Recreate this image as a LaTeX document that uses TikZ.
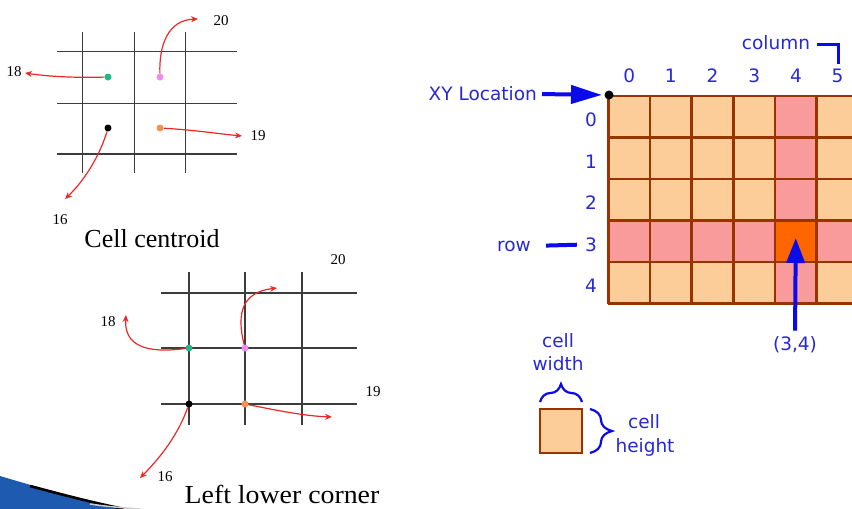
\documentclass[tikz,border=0pt]{standalone}
\usepackage{fontspec}
\setmainfont{Liberation Serif}
\newfontfamily\vsans{DejaVu Sans}
\usetikzlibrary{arrows.meta,decorations.pathreplacing}
\definecolor{peach}{RGB}{252,204,153}
\definecolor{pinkc}{RGB}{250,155,155}
\definecolor{orng}{RGB}{255,102,0}
\definecolor{brownc}{RGB}{153,51,0}
\definecolor{bluetxt}{RGB}{40,40,215}
\definecolor{bluearr}{RGB}{10,10,235}
\definecolor{redarr}{RGB}{235,40,40}
\definecolor{dotgreen}{RGB}{30,185,135}
\definecolor{dotpink}{RGB}{240,140,240}
\definecolor{dotorange}{RGB}{240,145,90}
\definecolor{gridgray}{RGB}{60,60,60}
\definecolor{swoosh}{RGB}{30,90,175}
\tikzset{
 btext/.style={text=bluetxt, font=\vsans\fontsize{18.5}{20}\selectfont, inner sep=0pt},
 ntext/.style={font=\fontsize{15}{17}\selectfont, inner sep=0pt},
 ctext/.style={font=\fontsize{26}{28}\selectfont, inner sep=0pt},
 gridl/.style={draw=gridgray, line width=1.2pt},
 dotn/.style={circle, inner sep=0pt, minimum size=7pt},
 rarr/.style={draw=redarr, line width=1.2pt, -{Stealth[length=7pt,width=6pt]}},
 barr/.style={draw=bluearr, line width=4pt},
 cellline/.style={draw=brownc, line width=2.8pt},
 bbrace/.style={draw=bluearr, line width=2.2pt, decorate},
}
\begin{document}
\begin{tikzpicture}[x=1pt,y=-1pt]
\useasboundingbox (0,0) rectangle (852,509);
\fill[white] (0,0) rectangle (852,509);

% ---------- top-left: cell centroid ----------
\foreach \x in {82.7,134.7,185.7} \draw[gridl] (\x,32) -- (\x,173);
\foreach \y in {51.7,103.3,154} \draw[gridl] (57,\y) -- (237,\y);
\node[dotn, fill=dotgreen] (g1) at (108,77) {};
\node[dotn, fill=dotpink] (p1) at (160,77) {};
\node[dotn, fill=black] (k1) at (108,128) {};
\node[dotn, fill=dotorange] (o1) at (160,128) {};
\node[ntext] (l20a) at (221,21) {20};
\node[ntext] (l18a) at (14,72) {18};
\node[ntext] (l19a) at (258,136) {19};
\node[ntext] (l16a) at (60,220) {16};
\coordinate (t18a) at (25,73);
\coordinate (t20a) at (198,19);
\coordinate (t19a) at (242,136);
\coordinate (t16a) at (65,199);
\draw[rarr] (g1) .. controls (70,78) and (45,76) .. (t18a);
\draw[rarr] (p1) .. controls (159,45) and (168,20) .. (t20a);
\draw[rarr] (o1) .. controls (195,130) and (220,134) .. (t19a);
\draw[rarr] (k1) .. controls (100,155) and (85,180) .. (t16a);
\node[ctext] (capA) at (152,238.5) {Cell centroid};

% ---------- bottom-left: left lower corner ----------
\foreach \x in {189,245,302} \draw[gridl] (\x,272) -- (\x,425);
\foreach \y in {293,348,404} \draw[gridl] (161,\y) -- (357,\y);
\node[dotn, fill=dotgreen] (g2) at (189,348) {};
\node[dotn, fill=dotpink] (p2) at (245,348) {};
\node[dotn, fill=black] (k2) at (189,404) {};
\node[dotn, fill=dotorange] (o2) at (245,404) {};
\node[ntext] (l20b) at (338,260) {20};
\node[ntext] (l18b) at (108,322) {18};
\node[ntext] (l19b) at (373,392) {19};
\node[ntext] (l16b) at (165,477) {16};
\coordinate (t18b) at (126,315);
\coordinate (t20b) at (277,288);
\coordinate (t19b) at (332,417);
\coordinate (t16b) at (140,478);
\draw[rarr] (g2) .. controls (145,354) and (124,345) .. (t18b);
\draw[rarr] (p2) .. controls (236,312) and (243,292) .. (t20b);
\draw[rarr] (o2) .. controls (280,411) and (305,416) .. (t19b);
\draw[rarr] (k2) .. controls (178,435) and (160,458) .. (t16b);
\node[ctext] (capB) at (282,494.5) {\scalebox{1.07}[1]{Left lower corner}};

% ---------- swoosh decoration ----------
\fill[swoosh] (0,476) .. controls (40,488) and (80,499) .. (120,509) -- (0,509) -- cycle;
\draw[black, line width=2.6pt] (30,486) .. controls (60,494) and (90,502) .. (124,509);
\draw[gray!40, line width=1.5pt] (90,504) .. controls (110,507) and (125,508) .. (140,509);

% ---------- right: raster grid ----------
\begin{scope}
\clip (0,0) rectangle (852,509);
\fill[peach] (608.3,96) rectangle (858.3,303.5);
\fill[pinkc] (608.3,220.5) rectangle (858.3,262);
\fill[pinkc] (775,96) rectangle (816.7,303.5);
\fill[orng] (775,220.5) rectangle (816.7,262);
\foreach \i in {0,...,6} \draw[cellline] ({608.3+41.67*\i},96) -- ({608.3+41.67*\i},303.5);
\foreach \j in {0,...,5} \draw[cellline] (608.3,{96+41.5*\j}) -- (858.3,{96+41.5*\j});
\end{scope}

\foreach \c in {0,...,5} \node[btext] (col\c) at ({629.2+41.67*\c},76) {\c};
\foreach \r in {0,...,4} \node[btext] (row\r) at (591,{120+41.5*\r}) {\r};

\node[btext] (colword) at (776,42.5) {column};
\coordinate (cb1) at (817,44);
\coordinate (cb2) at (838,64);
\draw[draw=bluearr, line width=3pt] (cb1) -| (cb2);

\node[circle, fill=black, inner sep=0pt, minimum size=9pt] (xydot) at (609,95) {};
\node[btext, anchor=east] (xy) at (537,94) {XY Location};
\draw[barr, -{Triangle[length=31pt,width=18pt]}, shorten <=5pt, shorten >=7pt] (xy.east) -- (xydot.center);

\node[btext] (rowword) at (514,246) {row};
\draw[barr, shorten <=15pt, shorten >=8pt] (rowword.east) -- (row3.west);

\node[btext] (rc) at (795,345) {(3,4)};
\coordinate (rctip) at (795.8,238);
\draw[barr, -{Triangle[length=25pt,width=18pt]}, shorten <=6pt] (rc.north) -- (rctip);

% ---------- cell legend ----------
\draw[cellline, fill=peach] (540,409) rectangle (582,453);
\node[btext] (cw1) at (558,341) {cell};
\node[btext] (cw2) at (558,364) {width};
\coordinate (wb1) at (540,402);
\coordinate (wb2) at (582,402);
\draw[bbrace, decoration={brace, amplitude=18pt}] (wb1) -- (wb2);
\node[btext] (ch1) at (644,422) {cell};
\node[btext] (ch2) at (645,447) {height};
\coordinate (hb1) at (590,409);
\coordinate (hb2) at (590,453);
\draw[bbrace, decoration={brace, amplitude=22pt}] (hb1) -- (hb2);
\end{tikzpicture}
\end{document}
